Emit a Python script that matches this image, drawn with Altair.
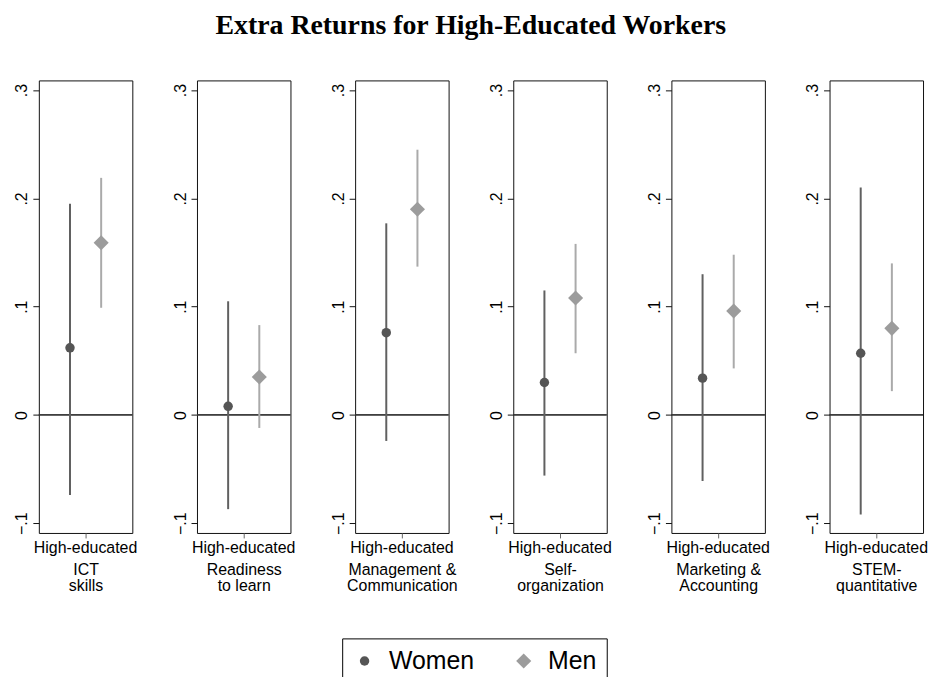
import altair as alt
import pandas as pd

# ---- data ----
skills = ["ICT skills", "Readiness to learn", "Management & Communication",
          "Self-organization", "Marketing & Accounting", "STEM-quantitative"]
title_lines = [["ICT", "skills"], ["Readiness", "to learn"], ["Management &", "Communication"],
               ["Self-", "organization"], ["Marketing &", "Accounting"], ["STEM-", "quantitative"]]
group_label = "High-educated"
sexes = ["Women", "Men"]

women_coef = [0.062, 0.008, 0.076, 0.030, 0.034, 0.057]
women_lo = [-0.074, -0.087, -0.024, -0.056, -0.061, -0.092]
women_hi = [0.195, 0.105, 0.177, 0.115, 0.130, 0.210]
men_coef = [0.159, 0.035, 0.190, 0.108, 0.096, 0.080]
men_lo = [0.099, -0.012, 0.137, 0.057, 0.043, 0.022]
men_hi = [0.219, 0.083, 0.245, 0.158, 0.148, 0.140]

y_ticks = [-0.1, 0.0, 0.1, 0.2, 0.3]

rows = []
for i, s in enumerate(skills):
    rows.append(dict(skill=s, grp=group_label, sex="Women",
                     coef=women_coef[i], lo=women_lo[i], hi=women_hi[i]))
    rows.append(dict(skill=s, grp=group_label, sex="Men",
                     coef=men_coef[i], lo=men_lo[i], hi=men_hi[i]))
df = pd.DataFrame(rows)

yscale = alt.Scale(domain=[-0.109, 0.309], nice=False, zero=False)
yaxis = alt.Axis(values=y_ticks, title=None, labelAngle=270, labelAlign="center",
                 labelBaseline="alphabetic", labelPadding=6, tickSize=6,
                 labelExpr="datum.value == 0 ? '0' : replace(format(datum.value, '.1f'), '0.', '.')")

legend = alt.Legend(title=None, orient="none", legendX=305, legendY=561,
                    direction="horizontal", labelFontSize=25,
                    labelFont="Liberation Sans", labelColor="black",
                    strokeColor="black", padding=10, columnPadding=37, symbolOffset=0,
                    labelOffset=12, symbolStrokeWidth=0)
line_colors = {"Women": "#606060", "Men": "#aaaaaa"}


def panel(i):
    base = alt.Chart(df).transform_filter(alt.datum.skill == skills[i])
    x = alt.X("grp:N", scale=alt.Scale(paddingInner=0, paddingOuter=0),
              axis=alt.Axis(title=title_lines[i], labelAngle=0, tickSize=5,
                            labelPadding=2, titlePadding=6, titleLineHeight=15.5,
                            tickColor="#666"))
    xo = alt.XOffset("sex:N", scale=alt.Scale(domain=sexes, paddingInner=0, paddingOuter=0.5))
    zero = base.mark_rule(color="#333333", strokeWidth=1.2).encode(
        y=alt.Y(datum=0, type="quantitative", scale=yscale, axis=yaxis))
    bars = [
        base.transform_filter(alt.datum.sex == s).mark_rule(strokeWidth=2, color=line_colors[s]).encode(
            x=x, xOffset=xo,
            y=alt.Y("lo:Q", scale=yscale, axis=yaxis),
            y2="hi:Q")
        for s in sexes
    ]
    pts = base.mark_point(filled=True, opacity=1).encode(
        x=x, xOffset=xo,
        y=alt.Y("coef:Q", scale=yscale, axis=yaxis),
        color=alt.Color("sex:N", scale=alt.Scale(domain=sexes, range=["#555555", "#9c9c9c"]),
                        legend=legend),
        shape=alt.Shape("sex:N", scale=alt.Scale(domain=sexes, range=["circle", "diamond"]),
                        legend=legend),
        size=alt.Size("sex:N", scale=alt.Scale(domain=sexes, range=[90, 230]), legend=legend))
    return alt.layer(zero, *bars, pts).properties(width=94, height=455)


chart = alt.hconcat(*[panel(i) for i in range(len(skills))], spacing=65, bounds="flush").properties(
    title=alt.TitleParams("Extra Returns for High-Educated Workers", font="Liberation Serif",
                          fontSize=28, fontWeight="bold", anchor="middle", offset=40, color="black"),
    padding={"top": 2, "left": 5, "right": 0, "bottom": -10}
).resolve_scale(color="shared", shape="shared", size="shared").resolve_legend(
    color="shared", shape="shared", size="shared"
).configure_view(stroke="#111111", strokeWidth=1).configure_axis(
    grid=False, domain=False, labelFont="Liberation Sans", titleFont="Liberation Sans",
    labelFontSize=16, titleFontSize=16, titleFontWeight="normal", tickColor="#111111",
    labelColor="black", titleColor="black"
)

chart.save("out.html", embed_options={"renderer": "svg", "actions": False})
